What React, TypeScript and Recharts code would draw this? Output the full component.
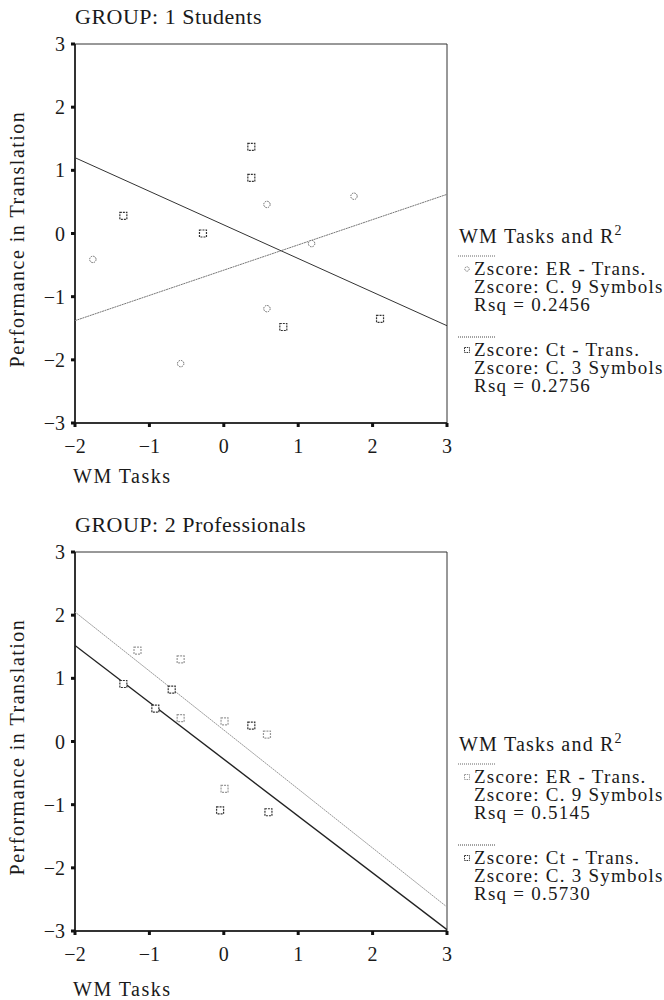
import React from 'react';
import { ComposedChart, Scatter, XAxis, YAxis, ReferenceArea } from 'recharts';

const xTicks = [-2, -1, 0, 1, 2, 3];
const yTicks = [-3, -2, -1, 0, 1, 2, 3];

// GROUP 1: Students
const studentsEr = [
  { x: -1.76, y: -0.41 },
  { x: -0.58, y: -2.06 },
  { x: 0.58, y: 0.46 },
  { x: 0.58, y: -1.19 },
  { x: 1.18, y: -0.16 },
  { x: 1.75, y: 0.59 },
];
const studentsCt = [
  { x: -1.35, y: 0.28 },
  { x: -0.28, y: 0.0 },
  { x: 0.37, y: 1.37 },
  { x: 0.37, y: 0.88 },
  { x: 0.8, y: -1.48 },
  { x: 2.1, y: -1.35 },
];
const studentsErFit = [
  { x: -2, y: -1.38 },
  { x: 3, y: 0.62 },
];
const studentsCtFit = [
  { x: -2, y: 1.2 },
  { x: 3, y: -1.46 },
];

// GROUP 2: Professionals
const profEr = [
  { x: -1.16, y: 1.44 },
  { x: -0.58, y: 1.3 },
  { x: -0.58, y: 0.37 },
  { x: 0.01, y: 0.32 },
  { x: 0.01, y: -0.75 },
  { x: 0.58, y: 0.11 },
];
const profCt = [
  { x: -1.35, y: 0.91 },
  { x: -0.92, y: 0.52 },
  { x: -0.7, y: 0.82 },
  { x: 0.37, y: 0.25 },
  { x: -0.05, y: -1.09 },
  { x: 0.6, y: -1.12 },
];
const profErFit = [
  { x: -2, y: 2.05 },
  { x: 3, y: -2.62 },
];
const profCtFit = [
  { x: -2, y: 1.52 },
  { x: 3, y: -2.98 },
];

const erLabels = ['Zscore: ER - Trans.', 'Zscore: C. 9 Symbols'];
const ctLabels = ['Zscore: Ct - Trans.', 'Zscore: C. 3 Symbols'];

const serif = '"Liberation Serif", "Times New Roman", serif';
const ink = '#1a1a1a';
const W = 664;
const H = 492;

const fmt = (v: number) => String(v).replace('-', '\u2212');

const circleShape = (color: string) => (p: any) => (
  <circle cx={p.cx} cy={p.cy} r={3.2} fill="#fff" stroke={color} strokeWidth={1} strokeDasharray="1.5 1" />
);
const squareShape = (color: string) => (p: any) => (
  <rect x={p.cx - 3.5} y={p.cy - 3.5} width={7} height={7} fill="#fff" stroke={color} strokeWidth={1.2} strokeDasharray="2 1" />
);
const noShape = () => <g />;

interface PanelProps {
  title: string;
  top: number;
  xLabelY: number;
  er: { x: number; y: number }[];
  ct: { x: number; y: number }[];
  erFit: { x: number; y: number }[];
  ctFit: { x: number; y: number }[];
  erMarker: 'circle' | 'square';
  erColor: string;
  ctColor: string;
  erLine: string;
  ctLine: string;
  ctLineWidth: number;
  rsq: string[];
}

function LegendMarker({ kind, color, x, y }: { kind: 'circle' | 'square'; color: string; x: number; y: number }) {
  if (kind === 'circle') {
    return <circle cx={x} cy={y} r={2.2} fill="#fff" stroke={color} strokeDasharray="1 0.8" />;
  }
  return <rect x={x - 2.5} y={y - 2.5} width={5} height={5} fill="#fff" stroke={color} strokeDasharray="1.5 0.8" />;
}

function Panel(p: PanelProps) {
  const tx = { fontFamily: serif, fill: ink };
  const item = { fontSize: 19, letterSpacing: 1.25, ...tx };
  return (
    <div style={{ position: 'absolute', left: 0, top: p.top, width: W, height: H }}>
      <ComposedChart width={W} height={H} margin={{ top: 44, right: 217, bottom: 39, left: 35 }}>
        <ReferenceArea x1={-2} x2={3} y1={-3} y2={3} fill="none" stroke="#333" strokeWidth={1} />
        <XAxis
          type="number"
          dataKey="x"
          domain={[-2, 3]}
          ticks={xTicks}
          height={30}
          tickFormatter={fmt}
          tickSize={4}
          tickMargin={12}
          axisLine={{ stroke: '#111', strokeWidth: 1.5 }}
          tickLine={{ stroke: '#111', strokeWidth: 3 }}
          tick={{ fontSize: 20, fontFamily: serif, fill: ink }}
          allowDataOverflow
        />
        <YAxis
          type="number"
          dataKey="y"
          domain={[-3, 3]}
          ticks={yTicks}
          width={40}
          tickFormatter={fmt}
          tickSize={4}
          tickMargin={6}
          axisLine={{ stroke: '#111', strokeWidth: 1.5 }}
          tickLine={{ stroke: '#111', strokeWidth: 3 }}
          tick={{ fontSize: 20, fontFamily: serif, fill: ink }}
          allowDataOverflow
        />
        <Scatter data={p.erFit} line={{ stroke: p.erLine, strokeWidth: 1, strokeDasharray: '2 0.6' }} shape={noShape} isAnimationActive={false} />
        <Scatter data={p.ctFit} line={{ stroke: p.ctLine, strokeWidth: p.ctLineWidth }} shape={noShape} isAnimationActive={false} />
        <Scatter
          data={p.er}
          shape={p.erMarker === 'circle' ? circleShape(p.erColor) : squareShape(p.erColor)}
          isAnimationActive={false}
        />
        <Scatter data={p.ct} shape={squareShape(p.ctColor)} isAnimationActive={false} />
      </ComposedChart>
      <svg width={W} height={H} style={{ position: 'absolute', left: 0, top: 0, pointerEvents: 'none' }}>
        <text x={75} y={24} fontSize={22} letterSpacing={0.5} {...tx}>
          {p.title}
        </text>
        <text x={73} y={p.xLabelY} fontSize={20} letterSpacing={1.5} {...tx}>
          WM Tasks
        </text>
        <text transform="translate(24,239) rotate(-90)" textAnchor="middle" fontSize={20} letterSpacing={1.5} {...tx}>
          Performance in Translation
        </text>
        <text x={459} y={243} fontSize={20} letterSpacing={1.2} {...tx}>
          WM Tasks and R<tspan dy={-8} fontSize={14}>2</tspan>
        </text>
        <line x1={458} x2={495} y1={256} y2={256} stroke="#666" strokeDasharray="1 1" />
        <LegendMarker kind={p.erMarker} color={p.erColor} x={467} y={269} />
        <text x={474} y={275} {...item}>{erLabels[0]}</text>
        <text x={474} y={293} {...item}>{erLabels[1]}</text>
        <text x={474} y={311} {...item}>{'Rsq = ' + p.rsq[0]}</text>
        <line x1={458} x2={495} y1={337} y2={337} stroke="#444" strokeDasharray="1 1" />
        <LegendMarker kind="square" color={p.ctColor} x={467} y={350} />
        <text x={474} y={356} {...item}>{ctLabels[0]}</text>
        <text x={474} y={374} {...item}>{ctLabels[1]}</text>
        <text x={474} y={392} {...item}>{'Rsq = ' + p.rsq[1]}</text>
      </svg>
    </div>
  );
}

export default function App() {
  return (
    <div style={{ position: 'absolute', left: 0, top: 0, width: W, height: 1000, background: '#fff', overflow: 'hidden' }}>
      <Panel
        title="GROUP: 1 Students"
        top={0}
        xLabelY={483}
        er={studentsEr}
        ct={studentsCt}
        erFit={studentsErFit}
        ctFit={studentsCtFit}
        erMarker="circle"
        erColor="#666"
        ctColor="#333"
        erLine="#777"
        ctLine="#333"
        ctLineWidth={1}
        rsq={['0.2456', '0.2756']}
      />
      <Panel
        title="GROUP: 2 Professionals"
        top={508}
        xLabelY={488}
        er={profEr}
        ct={profCt}
        erFit={profErFit}
        ctFit={profCtFit}
        erMarker="square"
        erColor="#999"
        ctColor="#333"
        erLine="#999"
        ctLine="#222"
        ctLineWidth={1.4}
        rsq={['0.5145', '0.5730']}
      />
    </div>
  );
}
